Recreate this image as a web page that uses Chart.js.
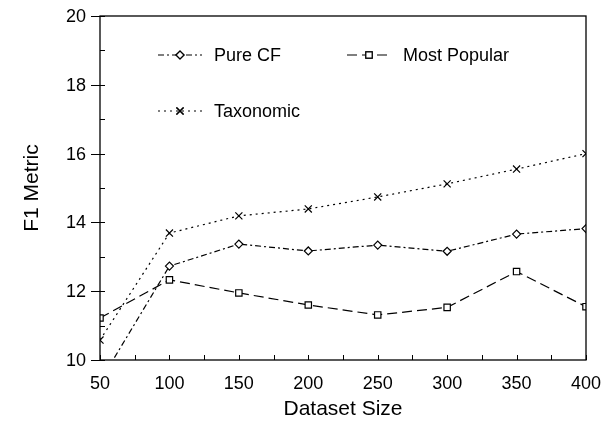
<!DOCTYPE html>
<html>
<head>
<meta charset="utf-8">
<script src="https://cdn.jsdelivr.net/npm/chart.js@4"></script>
<style>
  html, body { margin: 0; padding: 0; background: #fff; }
  #wrap { width: 601px; height: 446px; }
</style>
</head>
<body>
<div id="wrap"><canvas id="grafico" width="601" height="446"></canvas></div>
<script>
const datasetSizes = [50, 100, 150, 200, 250, 300, 350, 400];
const pureCF = [9.37, 12.73, 13.37, 13.17, 13.34, 13.16, 13.66, 13.82];
const mostPopular = [11.22, 12.33, 11.95, 11.6, 11.31, 11.53, 12.57, 11.55];
const taxonomic = [10.58, 13.69, 14.19, 14.39, 14.74, 15.12, 15.55, 16.0];

const fonte = "'Liberation Sans', Arial, sans-serif";

function pontos(valores) {
    return datasetSizes.map((x, i) => ({ x: x, y: valores[i] }));
}

const series = [
    { label: "Pure CF", data: pureCF, dash: [6, 3, 2, 3], style: "rectRot", radius: 4, legX: 158, legY: 55 },
    { label: "Most Popular", data: mostPopular, dash: [10, 5], style: "rect", radius: 4.5, legX: 347, legY: 55 },
    { label: "Taxonomic", data: taxonomic, dash: [2, 4], style: "crossRot", radius: 5, legX: 158, legY: 111 }
];

// ticks para dentro, rotulos, moldura e legenda dentro do grafico
const extras = {
    id: "extras",
    afterDatasetsDraw(chart) {
        const ctx = chart.ctx;
        const a = chart.chartArea;
        const sx = chart.scales.x, sy = chart.scales.y;
        ctx.save();
        ctx.strokeStyle = "#000";
        ctx.lineWidth = 1.3;
        ctx.setLineDash([]);
        ctx.strokeRect(a.left, a.top, a.right - a.left, a.bottom - a.top);
        ctx.lineWidth = 1;
        ctx.beginPath();
        for (let v = 50; v <= 400; v += 25) {
            const px = Math.round(sx.getPixelForValue(v)) + 0.5;
            ctx.moveTo(px, a.bottom);
            ctx.lineTo(px, a.bottom - 5);
        }
        for (let v = 10; v <= 20; v += 1) {
            const py = Math.round(sy.getPixelForValue(v)) + 0.5;
            ctx.moveTo(v % 2 === 0 ? a.left - 9 : a.left, py);
            ctx.lineTo(a.left + 5, py);
        }
        ctx.stroke();

        ctx.font = "18px " + fonte;
        ctx.fillStyle = "#000";
        ctx.textBaseline = "middle";
        ctx.textAlign = "center";
        sx.ticks.forEach(t => ctx.fillText(String(t.value), sx.getPixelForValue(t.value), a.bottom + 24));
        ctx.textAlign = "right";
        sy.ticks.forEach(t => ctx.fillText(String(t.value), a.left - 14, sy.getPixelForValue(t.value) + 1));
        ctx.textAlign = "left";

        ctx.lineWidth = 1.2;
        series.forEach(s => {
            ctx.setLineDash(s.dash);
            ctx.beginPath();
            ctx.moveTo(s.legX, s.legY);
            ctx.lineTo(s.legX + 44, s.legY);
            ctx.stroke();
            ctx.setLineDash([]);
            ctx.fillStyle = "#fff";
            Chart.helpers.drawPoint(ctx, { pointStyle: s.style, radius: s.radius, borderWidth: 1.2 }, s.legX + 22, s.legY);
            ctx.fill();
            ctx.stroke();
            ctx.fillStyle = "#000";
            ctx.fillText(s.label, s.legX + 56, s.legY + 1);
        });
        ctx.restore();
    }
};

new Chart(document.getElementById("grafico").getContext("2d"), {
    type: "line",
    data: {
        datasets: series.map(s => ({
            label: s.label,
            data: pontos(s.data),
            borderColor: "#000",
            backgroundColor: "#fff",
            borderWidth: 1.2,
            borderDash: s.dash,
            pointStyle: s.style,
            pointRadius: s.radius,
            pointBorderWidth: 1.2,
            pointBorderColor: "#000",
            pointBackgroundColor: "#fff",
            tension: 0,
            fill: false
        }))
    },
    options: {
        responsive: false,
        animation: false,
        events: [],
        layout: { padding: { left: 0, top: 16, right: 15, bottom: 0 } },
        plugins: { legend: { display: false }, tooltip: { enabled: false } },
        scales: {
            x: {
                type: "linear",
                min: 50,
                max: 400,
                grid: { display: false, drawTicks: false },
                border: { display: false },
                ticks: { display: false, stepSize: 50 },
                title: { display: true, text: "Dataset Size", color: "#000", font: { family: fonte, size: 21 }, padding: { top: 14, bottom: 24 } },
                afterFit(scale) { scale.height = 86; }
            },
            y: {
                min: 10,
                max: 20,
                grid: { display: false, drawTicks: false },
                border: { display: false },
                ticks: { display: false, stepSize: 2 },
                title: { display: true, text: "F1 Metric", color: "#000", font: { family: fonte, size: 21 }, padding: { top: 20, bottom: 0 } },
                afterFit(scale) { scale.width = 100; }
            }
        }
    },
    plugins: [extras]
});
</script>
</body>
</html>
